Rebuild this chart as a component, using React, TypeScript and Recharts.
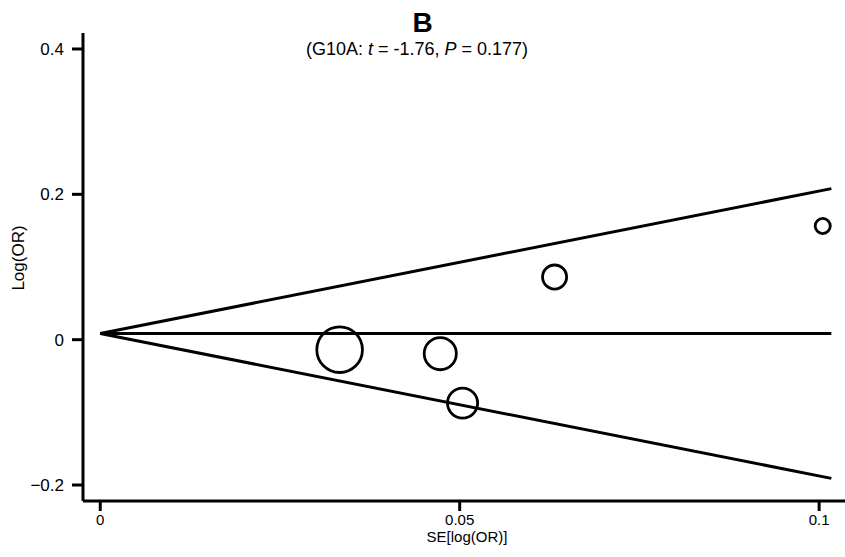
import {
  ReferenceLine,
  Scatter,
  ScatterChart,
  XAxis,
  YAxis,
} from "recharts";

// Begg's funnel plot, G10A
const seValues = [0.0333, 0.0473, 0.0504, 0.0632, 0.1005];
const logOrValues = [-0.0138, -0.0193, -0.0873, 0.0862, 0.1564];
const xTicks = [0, 0.05, 0.1];
const yTicks = [-0.2, 0, 0.2, 0.4];
const pooledLogOr = 0.0085;
const seLimit = 0.1017;

const data = seValues.map((se, i) => ({ se, logOR: logOrValues[i] }));

const font = '"Liberation Sans", Arial, sans-serif';
const axisStyle = { stroke: "#000", strokeWidth: 3 };

const fmt = (v: number) => (v < 0 ? `\u2212${Math.abs(v)}` : String(v));

// circle radius scales with precision (1/SE)
function StudyCircle(props: any) {
  const { cx, cy, payload } = props;
  if (cx == null || cy == null) return null;
  return (
    <circle
      cx={cx}
      cy={cy}
      r={0.76 / payload.se}
      fill="none"
      stroke="#000"
      strokeWidth={2.8}
    />
  );
}

export default function App() {
  const line = { stroke: "#000", strokeWidth: 3, ifOverflow: "visible" as const };
  return (
    <div style={{ position: "relative", width: 845, height: 557, background: "#fff" }}>
      <style>{"body{margin:0}"}</style>
      <ScatterChart
        width={845}
        height={557}
        margin={{ top: 33, right: 0, bottom: 0, left: 0 }}
      >
        <XAxis
          type="number"
          dataKey="se"
          domain={[-0.0024, 0.1036]}
          ticks={xTicks}
          tickFormatter={fmt}
          allowDataOverflow
          height={56}
          axisLine={axisStyle}
          tickLine={axisStyle}
          tickSize={10}
          tickMargin={3}
          tick={{ fill: "#000", fontSize: 15, fontFamily: font }}
        />
        <YAxis
          type="number"
          dataKey="logOR"
          domain={[-0.222, 0.422]}
          ticks={yTicks}
          tickFormatter={fmt}
          allowDataOverflow
          width={83}
          axisLine={axisStyle}
          tickLine={axisStyle}
          tickSize={11}
          tickMargin={8}
          tick={{ fill: "#000", fontSize: 17, fontFamily: font }}
        />
        <ReferenceLine
          {...line}
          segment={[
            { x: 0, y: pooledLogOr },
            { x: seLimit, y: pooledLogOr },
          ]}
        />
        <ReferenceLine
          {...line}
          segment={[
            { x: 0, y: pooledLogOr },
            { x: seLimit, y: pooledLogOr + 1.96 * seLimit },
          ]}
        />
        <ReferenceLine
          {...line}
          segment={[
            { x: 0, y: pooledLogOr },
            { x: seLimit, y: pooledLogOr - 1.96 * seLimit },
          ]}
        />
        <Scatter data={data} shape={StudyCircle} isAnimationActive={false} />
      </ScatterChart>
      <svg
        width={845}
        height={557}
        style={{ position: "absolute", left: 0, top: 0, pointerEvents: "none" }}
        fontFamily={font}
      >
        <text x={422.5} y={32} textAnchor="middle" fontSize={28} fontWeight="bold">
          B
        </text>
        <text x={417} y={55} textAnchor="middle" fontSize={18}>
          (G10A: <tspan fontStyle="italic">t</tspan> = -1.76,{" "}
          <tspan fontStyle="italic">P</tspan> = 0.177)
        </text>
        <text x={467} y={542} textAnchor="middle" fontSize={15}>
          SE[log(OR)]
        </text>
        <text
          x={0}
          y={0}
          transform="translate(23.5 258) rotate(-90)"
          textAnchor="middle"
          fontSize={17}
        >
          Log(OR)
        </text>
      </svg>
    </div>
  );
}
